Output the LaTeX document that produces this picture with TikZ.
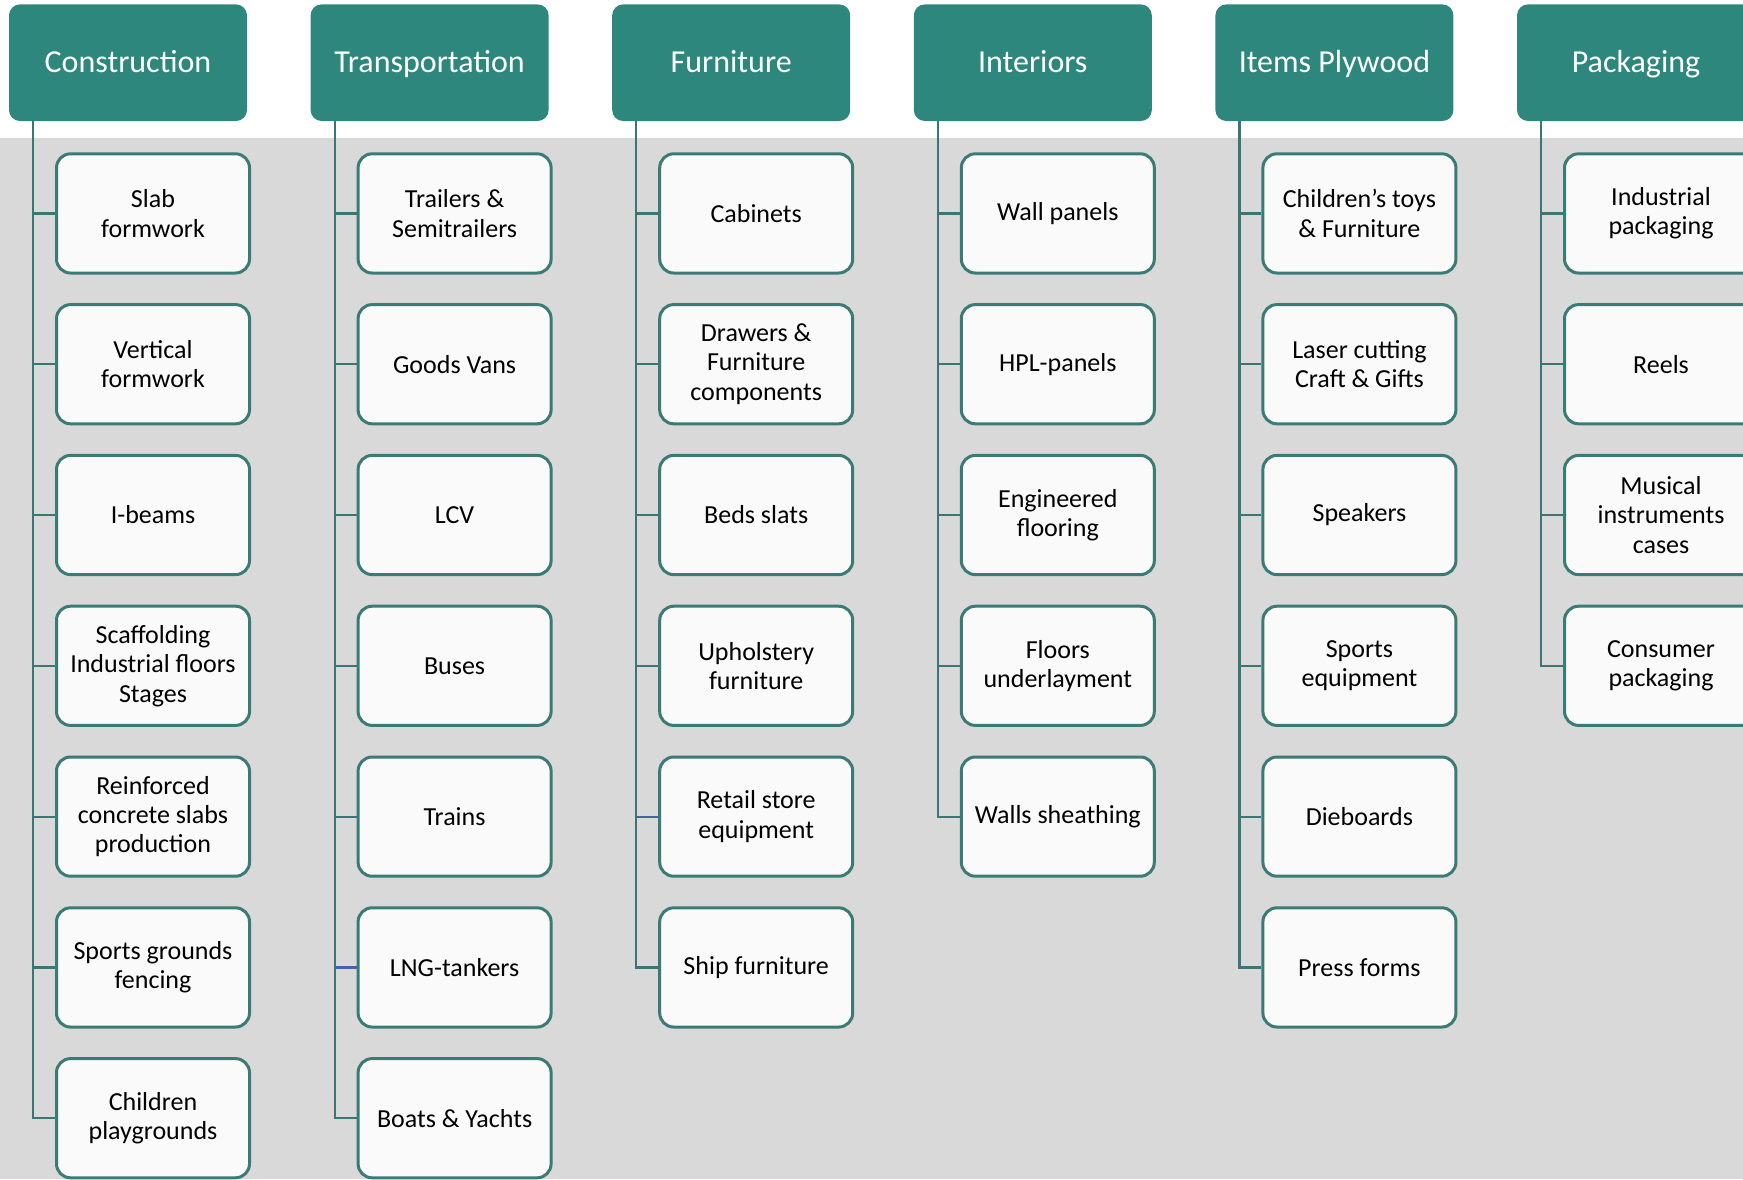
\documentclass[tikz,border=0pt]{standalone}
\usepackage{fontspec}
\setmainfont{Carlito}
\definecolor{hdrteal}{HTML}{2E877D}
\definecolor{boxteal}{HTML}{3A7B76}
\definecolor{lineteal}{HTML}{3A7673}
\definecolor{lineblue}{HTML}{4464AA}
\definecolor{bggray}{HTML}{D9D9D9}
\definecolor{boxfill}{HTML}{FAFAFA}
\tikzset{
  hdr/.style={rectangle, rounded corners=5.5pt, fill=hdrteal, text=white,
    minimum width=119pt, minimum height=58.3pt, inner sep=0pt,
    text height=12pt, text depth=2pt,
    font=\fontsize{16}{19}\selectfont},
  item/.style={rectangle, rounded corners=7pt, draw=boxteal, line width=1.5pt,
    fill=boxfill, minimum width=96.5pt, minimum height=59.6pt, align=center,
    inner sep=2pt, font=\fontsize{13}{14.7}\selectfont},
  conn/.style={line width=1.1pt}
}
\newcommand\mkhdr[3]{% col, name, text
  \node[hdr] (#2) at ({128+301.6*#1},62.7) {#3};
  \coordinate (t#1) at ([xshift=12.25pt]#2.south west);}
\newcommand\mkitem[5]{% col, row, name, colour, text
  \node[item] (#3) at ({153+301.6*#1},{213.4+150.8*#2}) {#5};
  \draw[conn,draw=#4] (t#1 |- #3.west) -- (#3.west);}
\begin{document}
\begin{tikzpicture}[x=0.5pt,y=-0.5pt]
\useasboundingbox (0,0) rectangle (1743,1179);
\clip (0,0) rectangle (1743,1179);
\fill[bggray] (0,137.8) rectangle (1743,1179);

\mkhdr{0}{hc}{Construction}
\mkhdr{1}{ht}{Transportation}
\mkhdr{2}{hf}{Furniture}
\mkhdr{3}{hi}{Interiors}
\mkhdr{4}{hp}{Items Plywood}
\mkhdr{5}{hk}{Packaging}

\mkitem{0}{0}{c0}{lineteal}{Slab\\formwork}
\mkitem{0}{1}{c1}{lineteal}{Vertical\\formwork}
\mkitem{0}{2}{c2}{lineteal}{I-beams}
\mkitem{0}{3}{c3}{lineteal}{Scaffolding\\Industrial floors\\Stages}
\mkitem{0}{4}{c4}{lineteal}{Reinforced\\concrete slabs\\production}
\mkitem{0}{5}{c5}{lineteal}{Sports grounds\\fencing}
\mkitem{0}{6}{c6}{lineteal}{Children\\playgrounds}

\mkitem{1}{0}{t0i}{lineteal}{Trailers \&\\Semitrailers}
\mkitem{1}{1}{t1i}{lineteal}{Goods Vans}
\mkitem{1}{2}{t2i}{lineteal}{LCV}
\mkitem{1}{3}{t3i}{lineteal}{Buses}
\mkitem{1}{4}{t4i}{lineteal}{Trains}
\mkitem{1}{5}{t5i}{lineblue}{LNG-tankers}
\mkitem{1}{6}{t6i}{lineteal}{Boats \& Yachts}

\mkitem{2}{0}{f0}{lineteal}{Cabinets}
\mkitem{2}{1}{f1}{lineteal}{Drawers \&\\Furniture\\components}
\mkitem{2}{2}{f2}{lineteal}{Beds slats}
\mkitem{2}{3}{f3}{lineteal}{Upholstery\\furniture}
\mkitem{2}{4}{f4}{lineblue}{Retail store\\equipment}
\mkitem{2}{5}{f5}{lineteal}{Ship furniture}

\mkitem{3}{0}{i0}{lineteal}{Wall panels}
\mkitem{3}{1}{i1}{lineteal}{HPL-panels}
\mkitem{3}{2}{i2}{lineteal}{Engineered\\flooring}
\mkitem{3}{3}{i3}{lineteal}{Floors\\underlayment}
\mkitem{3}{4}{i4}{lineteal}{Walls sheathing}

\mkitem{4}{0}{p0}{lineteal}{Children’s toys\\\& Furniture}
\mkitem{4}{1}{p1}{lineteal}{Laser cutting\\Craft \& Gifts}
\mkitem{4}{2}{p2}{lineteal}{Speakers}
\mkitem{4}{3}{p3}{lineteal}{Sports\\equipment}
\mkitem{4}{4}{p4}{lineteal}{Dieboards}
\mkitem{4}{5}{p5}{lineteal}{Press forms}

\mkitem{5}{0}{k0}{lineteal}{Industrial\\packaging}
\mkitem{5}{1}{k1}{lineteal}{Reels}
\mkitem{5}{2}{k2}{lineteal}{Musical\\instruments\\cases}
\mkitem{5}{3}{k3}{lineteal}{Consumer\\packaging}

% trunks from header to last child
\draw[conn,draw=lineteal] (t0) |- (c6.west);
\draw[conn,draw=lineteal] (t1) |- (t6i.west);
\draw[conn,draw=lineteal] (t2) |- (f5.west);
\draw[conn,draw=lineteal] (t3) |- (i4.west);
\draw[conn,draw=lineteal] (t4) |- (p5.west);
\draw[conn,draw=lineteal] (t5) |- (k3.west);
\end{tikzpicture}
\end{document}
